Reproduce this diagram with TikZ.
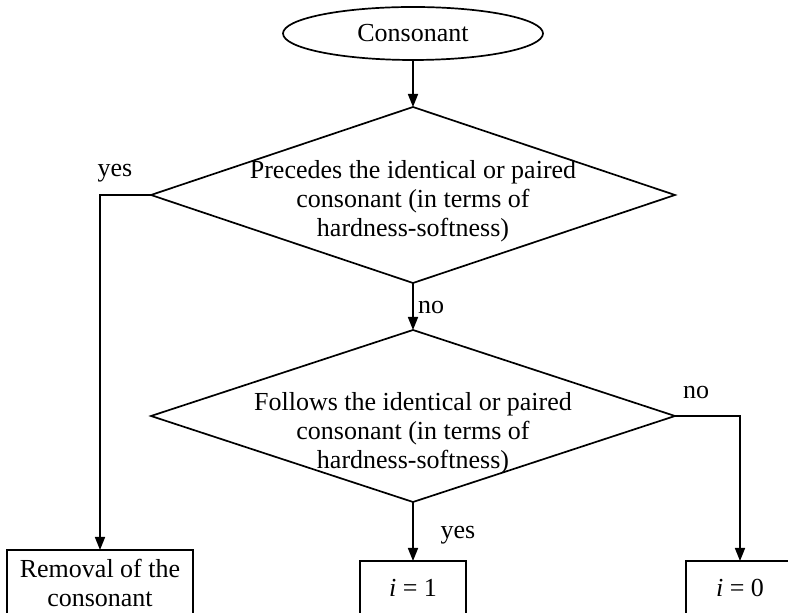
\documentclass[tikz,border=0pt]{standalone}
\usepackage{fontspec}
\setmainfont{Liberation Serif}
\usetikzlibrary{shapes.geometric,arrows.meta}
\begin{document}
\begin{tikzpicture}[x=0.5pt,y=-0.5pt,
  font=\fontsize{13}{14.5}\selectfont,
  line width=0.85pt,
  arr/.style={-{Triangle[length=6.5pt,width=5pt]}},
  dia/.style={diamond,draw,minimum width=262pt,minimum height=88pt,inner sep=0pt,outer sep=0pt},
  term/.style={ellipse,draw,minimum width=130pt,minimum height=26.5pt,inner sep=0pt,outer sep=0pt},
  boxn/.style={rectangle,draw,inner sep=0pt,outer sep=0pt,align=center},
  txt/.style={align=center,inner sep=0pt},
  lbl/.style={inner sep=0pt}]
\useasboundingbox (0,0) rectangle (788,613);
\node[term] (start) at (413,33.5) {Consonant};
\node[dia] (d1) at (413,195) {};
\node[txt] (t1) at (413,201) {Precedes the identical or paired\\consonant (in terms of\\hardness-softness)};
\node[dia, minimum height=86pt] (d2) at (413,416) {};
\node[txt] (t2) at (413,433) {Follows the identical or paired\\consonant (in terms of\\hardness-softness)};
\node[boxn, minimum width=93pt, minimum height=32.5pt] (rem) at (100,582.5) {Removal of the\\consonant};
\node[boxn, minimum width=53pt, minimum height=27pt] (i1) at (413,588) {\textit{i} = 1};
\node[boxn, minimum width=54pt, minimum height=27pt] (i0) at (740,588) {\textit{i} = 0};
\draw[arr] (start.south) -- (d1.north);
\draw[arr] (d1.west) -| (rem.north);
\draw[arr] (d1.south) -- (d2.north);
\draw[arr] (d2.south) -- (i1.north);
\draw[arr] (d2.east) -| (i0.north);
\node[lbl] (yes1) at (115,173) {yes};
\node[lbl] (no1) at (431,308) {no};
\node[lbl] (yes2) at (458,535) {yes};
\node[lbl] (no2) at (696,393) {no};
\end{tikzpicture}
\end{document}
